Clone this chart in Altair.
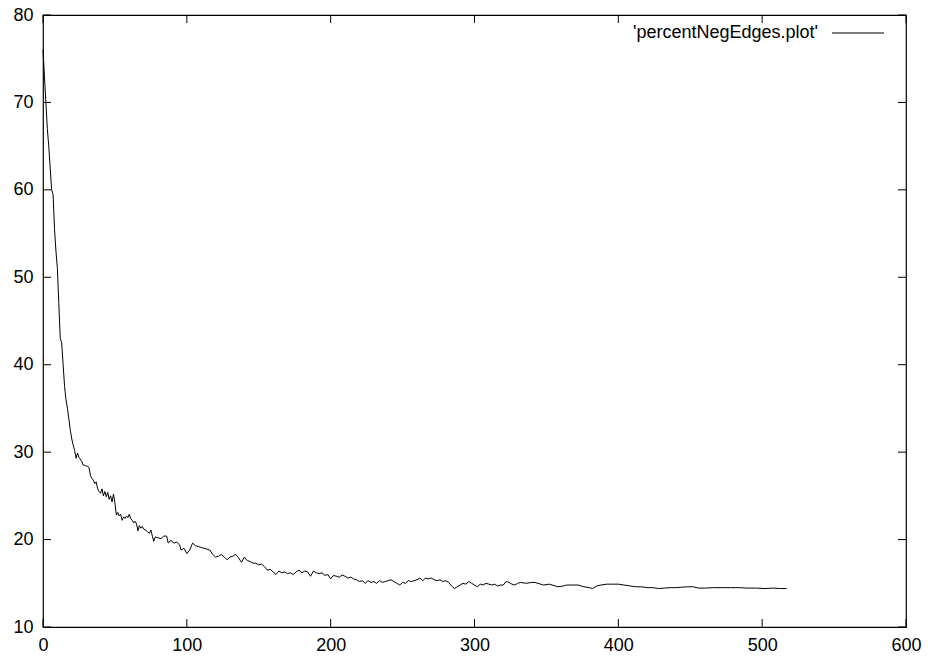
import altair as alt
import pandas as pd

# iteration index
x_vals = [0,1,2,3,4,5,6,7,8,9,10,11,12,13,14,15,16,17,18,19,20,21,22,23,24,25,26,27,28,29,30,31,32,33,34,35,36,37,38,39,
          40,41,42,43,44,45,46,47,48,49,50,51,52,53,54,55,56,57,58,59,60,61,62,63,64,65,66,67,68,69,70,72,74,75,76,77,78,80,82,84,
          86,87,89,91,93,95,96,98,100,102,104,106,108,110,112,114,116,118,120,122,124,126,128,130,132,134,136,138,140,142,144,146,148,150,
          152,154,156,158,160,162,164,166,168,170,172,174,176,178,180,182,184,186,188,190,192,194,196,198,200,202,204,206,208,210,
          212,214,216,218,220,222,224,226,228,230,232,234,236,238,240,242,244,246,248,250,252,254,256,258,260,262,264,266,268,270,
          272,274,276,278,280,282,284,286,288,290,292,294,296,298,300,302,304,306,308,310,312,314,316,318,320,322,324,326,328,330,
          332,336,340,342,344,346,348,352,356,358,362,364,368,372,376,380,382,385,388,392,396,400,404,408,412,416,420,424,428,432,
          436,440,444,448,452,456,460,466,472,478,484,490,496,502,508,512,517]

# percent of negative edges
y_vals = [76,73,70,67,65,62.5,60,59.5,55.5,53,51,47,43,42.5,40,37.5,36,35,33.8,32.5,31.5,30.8,30.2,29.3,29.9,29.4,29.2,28.9,28.5,28.5,
          28.4,28.4,28.2,27.3,27.0,26.8,26.4,26.6,25.8,25.5,25.3,25.8,25.0,25.5,24.9,25.4,24.6,25.0,24.3,25.2,24.2,22.8,23.1,22.7,22.9,
          22.2,22.6,22.4,22.7,22.5,22.9,22.4,22.2,21.9,22.1,21.8,21.0,21.6,21.3,21.5,21.2,21.0,20.7,21.1,20.4,19.8,20.3,20.2,20.1,20.4,
          20.4,19.6,19.9,19.6,19.7,19.4,18.8,19.0,18.4,18.8,19.6,19.3,19.2,19.1,19.0,18.9,18.8,18.3,18.0,18.1,18.3,18.0,17.7,18.0,18.1,
          18.3,17.9,17.4,18.0,17.6,17.5,17.3,17.3,17.1,17.2,16.9,16.5,16.6,16.3,16.0,16.4,16.2,16.3,16.1,16.2,16.0,16.3,16.5,16.2,16.4,
          16.3,15.8,16.4,16.2,16.1,16.2,15.9,16.0,15.5,15.9,15.8,15.7,15.95,15.8,15.6,15.7,15.5,15.4,15.2,15.3,15.0,15.3,15.1,15.2,15.0,
          15.3,15.1,15.2,15.3,15.4,15.2,15.0,14.8,15.1,15.0,15.3,15.2,15.3,15.4,15.6,15.3,15.6,15.5,15.6,15.4,15.3,15.4,15.2,15.3,15.1,
          14.7,14.4,14.6,14.8,15.0,14.9,15.2,15.0,14.8,14.6,14.9,14.8,15.0,14.9,14.8,14.9,14.7,14.8,14.8,15.2,15.1,14.9,14.8,15.0,15.1,
          15.0,15.1,15.1,15.0,14.9,14.8,14.9,14.7,14.6,14.7,14.8,14.8,14.8,14.6,14.5,14.4,14.7,14.8,14.9,14.9,14.9,14.8,14.7,14.6,14.6,
          14.5,14.5,14.4,14.45,14.5,14.5,14.55,14.6,14.6,14.45,14.45,14.5,14.5,14.5,14.5,14.45,14.45,14.4,14.45,14.4,14.4]

x_ticks = [0, 100, 200, 300, 400, 500, 600]
y_ticks = [10, 20, 30, 40, 50, 60, 70, 80]
legend_label = "'percentNegEdges.plot'"

W, H = 863, 612
FONT = "Liberation Sans"
FS = 18

df = pd.DataFrame({"x": x_vals, "y": y_vals})
xt = pd.DataFrame({"t": x_ticks})
yt = pd.DataFrame({"t": y_ticks})

xscale = alt.Scale(domain=[0, 600], nice=False, zero=False)
yscale = alt.Scale(domain=[10, 80], nice=False, zero=False)

line = alt.Chart(df).mark_line(color="black", strokeWidth=1).encode(
    x=alt.X("x:Q", scale=xscale,
            axis=alt.Axis(values=x_ticks, title=None, tickSize=0, domain=False, grid=False,
                          labelFont=FONT, labelFontSize=FS, labelColor="black", labelPadding=9,
                          labelFlush=False, labelOverlap=False, format="d")),
    y=alt.Y("y:Q", scale=yscale,
            axis=alt.Axis(values=y_ticks, title=None, tickSize=0, domain=False, grid=False,
                          labelFont=FONT, labelFontSize=FS, labelColor="black", labelPadding=10,
                          labelFlush=False, labelOverlap=False, format="d")),
)

tick_len = 8
bottom_ticks = alt.Chart(xt).mark_rule(color="black", strokeWidth=1).encode(
    x=alt.X("t:Q", scale=xscale), y=alt.value(H), y2=alt.value(H - tick_len))
top_ticks = alt.Chart(xt).mark_rule(color="black", strokeWidth=1).encode(
    x=alt.X("t:Q", scale=xscale), y=alt.value(0), y2=alt.value(tick_len))
left_ticks = alt.Chart(yt).mark_rule(color="black", strokeWidth=1).encode(
    y=alt.Y("t:Q", scale=yscale), x=alt.value(0), x2=alt.value(tick_len))
right_ticks = alt.Chart(yt).mark_rule(color="black", strokeWidth=1).encode(
    y=alt.Y("t:Q", scale=yscale), x=alt.value(W), x2=alt.value(W - tick_len))

legend_text = alt.Chart(pd.DataFrame({"label": [legend_label]})).mark_text(
    align="right", baseline="middle", font=FONT, fontSize=FS, color="black").encode(
    x=alt.value(775), y=alt.value(18), text="label:N")
legend_line = alt.Chart(pd.DataFrame({"label": [legend_label]})).mark_rule(
    color="black", strokeWidth=1).encode(
    x=alt.value(789), x2=alt.value(841), y=alt.value(18))

chart = alt.layer(
    bottom_ticks, top_ticks, left_ticks, right_ticks, line, legend_text, legend_line
).properties(
    width=W, height=H,
    autosize=alt.AutoSizeParams(type="none"),
    padding={"left": 43, "top": 15, "right": 22, "bottom": 30},
    background="white",
).configure_view(stroke="black", strokeWidth=1.2)

chart.save("out.html", embed_options={"renderer": "svg", "actions": False})
